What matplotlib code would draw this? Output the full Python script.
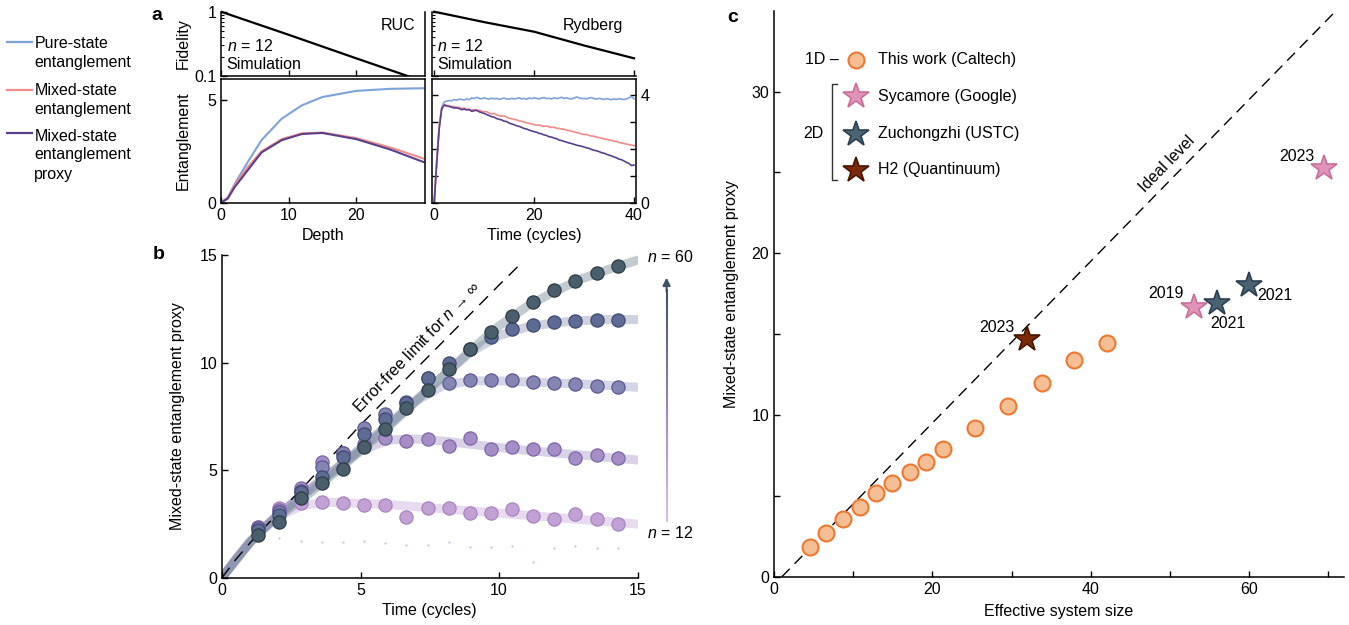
import numpy as np
import matplotlib
matplotlib.use('Agg')
import matplotlib.pyplot as plt
from matplotlib.collections import LineCollection
from matplotlib.lines import Line2D
from matplotlib.patches import Rectangle
from matplotlib.ticker import NullFormatter, FixedLocator

plt.rcParams['font.family'] = ['Liberation Sans', 'DejaVu Sans']
plt.rcParams['mathtext.fontset'] = 'custom'
plt.rcParams['mathtext.it'] = 'Liberation Sans:italic'
plt.rcParams['mathtext.rm'] = 'Liberation Sans'
plt.rcParams['font.size'] = 11.5
plt.rcParams['xtick.direction'] = 'in'
plt.rcParams['ytick.direction'] = 'in'
plt.rcParams['axes.linewidth'] = 1.1
plt.rcParams['xtick.major.width'] = 1.0
plt.rcParams['ytick.major.width'] = 1.0
plt.rcParams['xtick.major.size'] = 4
plt.rcParams['ytick.major.size'] = 4
plt.rcParams['xtick.minor.size'] = 4
plt.rcParams['ytick.minor.size'] = 4
plt.rcParams['xtick.minor.width'] = 1.0
plt.rcParams['ytick.minor.width'] = 1.0

# ---------------- data: panel a ----------------
depth_ruc = [0, 1, 2, 4, 6, 9, 12, 15, 20, 25, 30]
pure_ruc = [0, 0.25, 0.9, 2.0, 3.05, 4.1, 4.75, 5.15, 5.45, 5.55, 5.58]
mixed_ruc = [0, 0.25, 0.85, 1.75, 2.5, 3.1, 3.38, 3.42, 3.15, 2.7, 2.15]
proxy_ruc = [0, 0.2, 0.75, 1.6, 2.45, 3.05, 3.35, 3.4, 3.1, 2.6, 1.98]
depth_fid = [0, 10, 20, 30]
fid_ruc = [1.0, 0.44, 0.19, 0.083]
time_fid = [0, 10, 20, 30, 40]
fid_ryd = [1.0, 0.69, 0.49, 0.30, 0.19]

time_ryd = np.arange(81) * 0.5
pure_ryd = [0, 1.55, 2.85, 3.55, 3.74,
            3.78, 3.80, 3.79, 3.83, 3.81, 3.85, 3.84, 3.82, 3.86, 3.83, 3.90, 3.87, 3.92, 3.88, 3.86, 3.90,
            3.87, 3.85, 3.89, 3.86, 3.88, 3.84, 3.87, 3.89, 3.86, 3.85, 3.88, 3.86, 3.87, 3.90, 3.86, 3.88, 3.85, 3.89, 3.87, 3.90,
            3.88, 3.86, 3.89, 3.91, 3.87, 3.88, 3.86, 3.90, 3.87, 3.89, 3.92, 3.88, 3.90, 3.87, 3.86, 3.89, 3.93, 3.90, 3.87, 3.88,
            3.86, 3.89, 3.91, 3.87, 3.85, 3.88, 3.86, 3.84, 3.87, 3.85, 3.83, 3.86, 3.84, 3.87, 3.85, 3.84, 3.86, 3.90, 3.95, 3.86]
mixed_ryd = [0, 1.5, 2.8, 3.5, 3.65,
             3.62, 3.60, 3.57, 3.58, 3.54, 3.55, 3.50, 3.52, 3.47, 3.48, 3.44, 3.47, 3.42, 3.44, 3.40, 3.38,
             3.39, 3.33, 3.30, 3.32, 3.26, 3.24, 3.22, 3.23, 3.18, 3.14, 3.12, 3.10, 3.08, 3.04, 3.03, 3.00, 2.97, 2.95, 2.93, 2.90,
             2.88, 2.89, 2.86, 2.84, 2.85, 2.82, 2.80, 2.81, 2.77, 2.76, 2.74, 2.73, 2.70, 2.68, 2.66, 2.63, 2.61, 2.58, 2.56, 2.53,
             2.54, 2.50, 2.48, 2.47, 2.44, 2.42, 2.40, 2.37, 2.36, 2.33, 2.32, 2.29, 2.28, 2.24, 2.22, 2.20, 2.18, 2.16, 2.14, 2.12]
proxy_ryd = [0, 1.45, 2.75, 3.48, 3.63,
             3.60, 3.58, 3.55, 3.52, 3.53, 3.50, 3.46, 3.48, 3.45, 3.46, 3.40, 3.42, 3.44, 3.38, 3.35, 3.32,
             3.28, 3.24, 3.20, 3.18, 3.13, 3.10, 3.08, 3.03, 3.02, 2.96, 2.93, 2.90, 2.86, 2.84, 2.80, 2.76, 2.74, 2.70, 2.67, 2.64,
             2.62, 2.58, 2.56, 2.52, 2.50, 2.45, 2.44, 2.40, 2.38, 2.33, 2.31, 2.28, 2.25, 2.22, 2.20, 2.17, 2.14, 2.12, 2.10, 2.07,
             2.04, 2.02, 1.98, 1.95, 1.93, 1.90, 1.86, 1.84, 1.80, 1.77, 1.74, 1.70, 1.67, 1.62, 1.60, 1.55, 1.50, 1.46, 1.38, 1.40]

# ---------------- data: panel b ----------------
t_b = [1.31, 2.07, 2.84, 3.60, 4.36, 5.13, 5.89, 6.65, 7.42, 8.18, 8.95, 9.71, 10.47, 11.24, 12.00, 12.76, 13.53, 14.29]
y_n12 = [2.35, 3.22, 3.45, 3.53, 3.45, 3.38, 3.38, 2.81, 3.25, 3.25, 2.99, 2.99, 3.18, 2.87, 2.71, 2.96, 2.71, 2.51]
y_n24 = [2.35, 3.15, 4.15, 5.39, 5.78, 6.20, 6.50, 6.36, 6.43, 6.12, 6.50, 5.98, 6.09, 5.98, 5.96, 5.55, 5.70, 5.55]
y_n36 = [2.30, 3.05, 4.05, 5.16, 5.78, 6.94, 7.63, 8.17, 9.26, 9.06, 9.18, 9.18, 9.18, 9.10, 9.06, 9.00, 8.92, 8.87]
y_n48 = [2.20, 2.91, 4.00, 4.69, 5.62, 6.66, 7.36, 8.10, 9.30, 9.99, 10.65, 11.17, 11.54, 11.74, 11.89, 11.94, 12.00, 12.00]
y_n60 = [1.98, 2.60, 3.69, 4.38, 5.03, 6.06, 6.89, 7.87, 8.72, 9.68, 10.65, 11.43, 12.15, 12.82, 13.36, 13.80, 14.17, 14.48]

t_fit = [0, 0.5, 1, 1.5, 2, 3, 4, 5, 6, 7, 8, 9, 10, 11, 12, 13, 14, 15]
fit_n12 = [0, 0.85, 1.65, 2.3, 2.85, 3.4, 3.5, 3.45, 3.4, 3.3, 3.2, 3.1, 3.0, 2.9, 2.8, 2.7, 2.6, 2.49]
fit_n24 = [0, 0.85, 1.65, 2.3, 2.9, 3.95, 4.95, 5.9, 6.4, 6.45, 6.35, 6.2, 6.05, 5.92, 5.8, 5.7, 5.58, 5.47]
fit_n36 = [0, 0.85, 1.65, 2.3, 2.9, 3.95, 4.95, 6.0, 7.1, 8.2, 8.95, 9.15, 9.15, 9.1, 9.05, 9.0, 8.93, 8.85]
fit_n48 = [0, 0.85, 1.65, 2.3, 2.9, 3.9, 4.9, 6.0, 7.1, 8.25, 9.4, 10.5, 11.25, 11.65, 11.85, 11.95, 12.0, 12.0]
fit_n60 = [0, 0.8, 1.6, 2.25, 2.8, 3.75, 4.8, 5.9, 7.0, 8.2, 9.4, 10.6, 11.7, 12.6, 13.3, 13.9, 14.35, 14.76]

t_errfree = [0, 0.5, 1, 1.5, 2, 3, 4, 5, 6, 7, 8, 9, 10, 10.75]
y_errfree = [0, 0.85, 1.6, 2.3, 2.95, 4.3, 5.7, 7.1, 8.4, 9.7, 11.0, 12.3, 13.6, 14.55]

t_dots = t_b[1:]
y_dots = [1.83, 1.71, 1.64, 1.68, 1.71, 1.60, 1.52, 1.52, 1.67, 1.41, 1.45, 1.48, 0.74, 1.40, 1.48, 1.40, 1.36]

# ---------------- data: panel c ----------------
caltech_size = [4.58, 6.59, 8.69, 10.80, 12.91, 14.96, 17.12, 19.18, 21.29, 25.40, 29.61, 33.83, 37.93, 42.10]
caltech_proxy = [1.86, 2.68, 3.55, 4.29, 5.15, 5.81, 6.49, 7.07, 7.88, 9.18, 10.56, 12.0, 13.40, 14.47]
sycamore_size = [53, 69.5]
sycamore_proxy = [16.7, 25.3]
sycamore_year = ['2019', '2023']
ustc_size = [56, 60]
ustc_proxy = [16.9, 18.05]
ustc_year = ['2021', '2021']
h2_size = [32]
h2_proxy = [14.7]
h2_year = ['2023']
ideal_size = [1, 71]
ideal_proxy = [0, 35]

# ---------------- colours ----------------
c_pure = '#7EA2DA'
c_mixed = '#F28B8B'
c_proxy = '#5A3F8C'
n_face = ['#C2A2D4', '#A58DC5', '#8485B3', '#5E6B94', '#4A5F6B']
n_edge = ['#A885C0', '#7E67A8', '#5B5990', '#3F4A70', '#2C3D48']
n_band = ['#C9A9D9', '#A898C8', '#9A9CC4', '#8B94B4', '#6F8790']

W, H = 1349, 625
fig = plt.figure(figsize=(W / 100, H / 100), dpi=100)


def ax_px(x0, y0, x1, y1):
    return fig.add_axes([x0 / W, 1 - y1 / H, (x1 - x0) / W, (y1 - y0) / H])


def ftext(x, y, s, **kw):
    fig.text(x / W, 1 - y / H, s, **kw)


# ================= panel a =================
ax_fr = ax_px(221, 11.7, 425, 76.3)
ax_er = ax_px(221, 79, 425, 202.7)
ax_fy = ax_px(431.7, 11.7, 636, 76.3)
ax_ey = ax_px(431.7, 79, 636, 202.7)

for axf, xs, ys, xl, xt in [(ax_fr, depth_fid, fid_ruc, (0, 30.2), [0, 10, 20]),
                            (ax_fy, time_fid, fid_ryd, (-0.5, 40.4), [0, 20, 40])]:
    ln, = axf.plot(xs, ys, color='black', lw=1.6)
    clip_rect = Rectangle((0, 0), 1, 1.3, transform=axf.transAxes, visible=False)
    ln.set_clip_path(clip_rect)
    axf.set_yscale('log')
    axf.set_ylim(0.1, 1.0)
    axf.set_xlim(*xl)
    axf.set_xticks(xt)
    axf.tick_params(axis='x', labelbottom=False)
    axf.spines['top'].set_visible(False)
    axf.yaxis.set_major_locator(FixedLocator([0.1, 1.0]))
    axf.yaxis.set_minor_formatter(NullFormatter())
    axf.tick_params(axis='y', which='minor', length=2.5, width=0.8)
    axf.text(0.028, 0.475, '$n$ = 12', transform=axf.transAxes, va='center', ha='left')
    axf.text(0.028, 0.19, 'Simulation', transform=axf.transAxes, va='center', ha='left')
ax_fy.spines['right'].set_visible(False)

ax_fr.set_yticklabels(['0.1', '1'])
ax_fy.tick_params(axis='y', labelleft=False)
ax_fr.set_ylabel('Fidelity')
ax_fr.yaxis.set_label_coords(-0.15, 0.5)
ax_fr.text(0.951, 0.78, 'RUC', transform=ax_fr.transAxes, ha='right', va='center')
ax_fy.text(0.938, 0.78, 'Rydberg', transform=ax_fy.transAxes, ha='right', va='center')

ax_er.plot(depth_ruc, pure_ruc, color=c_pure, lw=1.5)
ax_er.plot(depth_ruc, mixed_ruc, color=c_mixed, lw=1.5)
ax_er.plot(depth_ruc, proxy_ruc, color=c_proxy, lw=1.5)
ax_er.set_xlim(0, 30.2)
ax_er.set_ylim(0, 6.03)
ax_er.set_xticks([0, 10, 20])
ax_er.set_yticks([0, 5])
ax_er.set_xlabel('Depth', labelpad=4)
ax_er.set_ylabel('Entanglement')
ax_er.yaxis.set_label_coords(-0.15, 0.5)

ax_ey.plot(time_ryd, pure_ryd, color=c_pure, lw=1.2)
ax_ey.plot(time_ryd, mixed_ryd, color=c_mixed, lw=1.2)
ax_ey.plot(time_ryd, proxy_ryd, color=c_proxy, lw=1.2)
ax_ey.set_xlim(-0.5, 40.4)
ax_ey.set_ylim(0, 4.6)
ax_ey.set_xticks([0, 20, 40])
ax_ey.set_yticks([0, 1, 2, 3, 4])
ax_ey.set_yticklabels(['0', '', '', '', '4'])
ax_ey.tick_params(axis='y', left=True, right=True, labelleft=False, labelright=True)
ax_ey.set_xlabel('Time (cycles)', labelpad=4)

# left legend
for y, col in [(42, c_pure), (90, c_mixed), (133.3, c_proxy)]:
    fig.add_artist(Line2D([6.7 / W, 31.7 / W], [1 - y / H, 1 - y / H], color=col, lw=1.6))
for y, s in [(42, 'Pure-state'), (61, 'entanglement'), (89.3, 'Mixed-state'), (108.3, 'entanglement'),
             (135, 'Mixed-state'), (153.3, 'entanglement'), (172.5, 'proxy')]:
    ftext(34.3, y, s, ha='left', va='center_baseline')

ftext(156.7, 15, 'a', fontsize=14, fontweight='bold', ha='center', va='center')
ftext(158.3, 255, 'b', fontsize=14, fontweight='bold', ha='center', va='center')
ftext(733, 17, 'c', fontsize=14, fontweight='bold', ha='center', va='center')

# ================= panel b =================
axb = ax_px(222, 255, 637.5, 577.7)
fits = [fit_n12, fit_n24, fit_n36, fit_n48, fit_n60]
ys = [y_n12, y_n24, y_n36, y_n48, y_n60]
for f, bc in zip(fits, n_band):
    axb.plot(t_fit, f, color=bc, lw=6.5, alpha=0.42, solid_capstyle='round', solid_joinstyle='round', zorder=1)
axb.plot(t_errfree, y_errfree, color='black', lw=1.0, dashes=(9, 6), zorder=2)
axb.plot(t_dots, y_dots, ls='none', marker='s', ms=1.4, color='#D6B8E2', mew=0, zorder=2)
for y, fc, ec in zip(ys, n_face, n_edge):
    axb.plot(t_b, y, ls='none', marker='o', ms=9.5, mfc=fc, mec=ec, mew=0.9, zorder=3)
axb.set_xlim(0, 15)
axb.set_ylim(0, 15)
axb.set_xticks([0, 5, 10, 15])
axb.set_yticks([0, 5, 10, 15])
axb.spines['top'].set_visible(False)
axb.spines['right'].set_visible(False)
axb.set_xlabel('Time (cycles)', labelpad=4)
axb.set_ylabel('Mixed-state entanglement proxy')
axb.yaxis.set_label_coords(-0.088, 0.5)
axb.text(7.02, 10.7, 'Error-free limit for $n$ \u2192 \u221e', rotation=46, rotation_mode='anchor',
         ha='center', va='center')

# gradient arrow
ya = np.linspace(2.6, 13.4, 60)
pts = np.array([[16.05 * np.ones_like(ya), ya]]).T.reshape(-1, 1, 2)
segs = np.concatenate([pts[:-1], pts[1:]], axis=1)
cmap = matplotlib.colors.LinearSegmentedColormap.from_list('g', ['#D9BEE3', '#9C86BE', '#3E5563'])
lc = LineCollection(segs, cmap=cmap, linewidths=1.5, clip_on=False)
lc.set_array(np.linspace(0, 1, len(segs)))
axb.add_collection(lc)
axb.annotate('', xy=(16.05, 13.95), xytext=(16.05, 13.3),
             arrowprops=dict(arrowstyle='-|>', color='#3E5563', lw=1.5, mutation_scale=11,
                             shrinkA=0, shrinkB=0), annotation_clip=False)
axb.text(15.34, 14.9, '$n$ = 60', ha='left', va='center', clip_on=False)
axb.text(15.34, 2.09, '$n$ = 12', ha='left', va='center', clip_on=False)

# ================= panel c =================
axc = ax_px(774, 10.7, 1344, 576.7)
axc.plot(ideal_size, ideal_proxy, color='black', lw=1.0, dashes=(8, 5), zorder=1)
axc.plot(caltech_size, caltech_proxy, ls='none', marker='o', ms=11.5, mfc='#F5BE94', mec='#EC7A32', mew=1.5, zorder=3)
axc.plot(sycamore_size, sycamore_proxy, ls='none', marker='*', ms=19, mfc='#E092B8', mec='#C8709C', mew=1.2, zorder=3)
axc.plot(ustc_size, ustc_proxy, ls='none', marker='*', ms=19, mfc='#4B6273', mec='#2D4050', mew=1.2, zorder=3)
axc.plot(h2_size, h2_proxy, ls='none', marker='*', ms=19, mfc='#7A2A08', mec='#4A1500', mew=1.2, zorder=3)
axc.set_xlim(0, 72)
axc.set_ylim(0, 35)
axc.set_xticks([0, 20, 40, 60])
axc.set_xticks([10, 30, 50, 70], minor=True)
axc.set_yticks([0, 10, 20, 30])
axc.set_yticks([5, 15, 25], minor=True)
axc.spines['top'].set_visible(False)
axc.spines['right'].set_visible(False)
axc.set_xlabel('Effective system size', labelpad=5)
axc.set_ylabel('Mixed-state entanglement proxy')
axc.yaxis.set_label_coords(-0.061, 0.5)

axc.text(68.3, 26.0, sycamore_year[1], ha='right', va='center')
axc.text(51.8, 17.5, sycamore_year[0], ha='right', va='center')
axc.text(55.1, 15.67, ustc_year[0], ha='left', va='center')
axc.text(61.0, 17.4, ustc_year[1], ha='left', va='center')
axc.text(30.4, 15.4, h2_year[0], ha='right', va='center')
axc.text(49.6, 25.5, 'Ideal level', rotation=45.6, rotation_mode='anchor', ha='center', va='center')

# legend in panel c
axc.text(6.0, 31.96, '1D \u2013', ha='center', va='center')
axc.plot([10.4], [31.96], marker='o', ms=11.5, mfc='#F5BE94', mec='#EC7A32', mew=1.5, ls='none')
axc.plot([10.4], [29.7], marker='*', ms=19, mfc='#E092B8', mec='#C8709C', mew=1.2, ls='none')
axc.plot([10.4], [27.4], marker='*', ms=19, mfc='#4B6273', mec='#2D4050', mew=1.2, ls='none')
axc.plot([10.4], [25.15], marker='*', ms=19, mfc='#7A2A08', mec='#4A1500', mew=1.2, ls='none')
for y, s in [(31.96, 'This work (Caltech)'), (29.7, 'Sycamore (Google)'),
             (27.4, 'Zuchongzhi (USTC)'), (25.15, 'H2 (Quantinuum)')]:
    axc.text(13.2, y, s, ha='left', va='center')
axc.text(5.0, 27.4, '2D', ha='center', va='center')
axc.plot([8.0, 7.27, 7.27, 8.0], [30.47, 30.47, 24.54, 24.54], color='#333333', lw=1.0)

fig.savefig('out.png', dpi=100)
